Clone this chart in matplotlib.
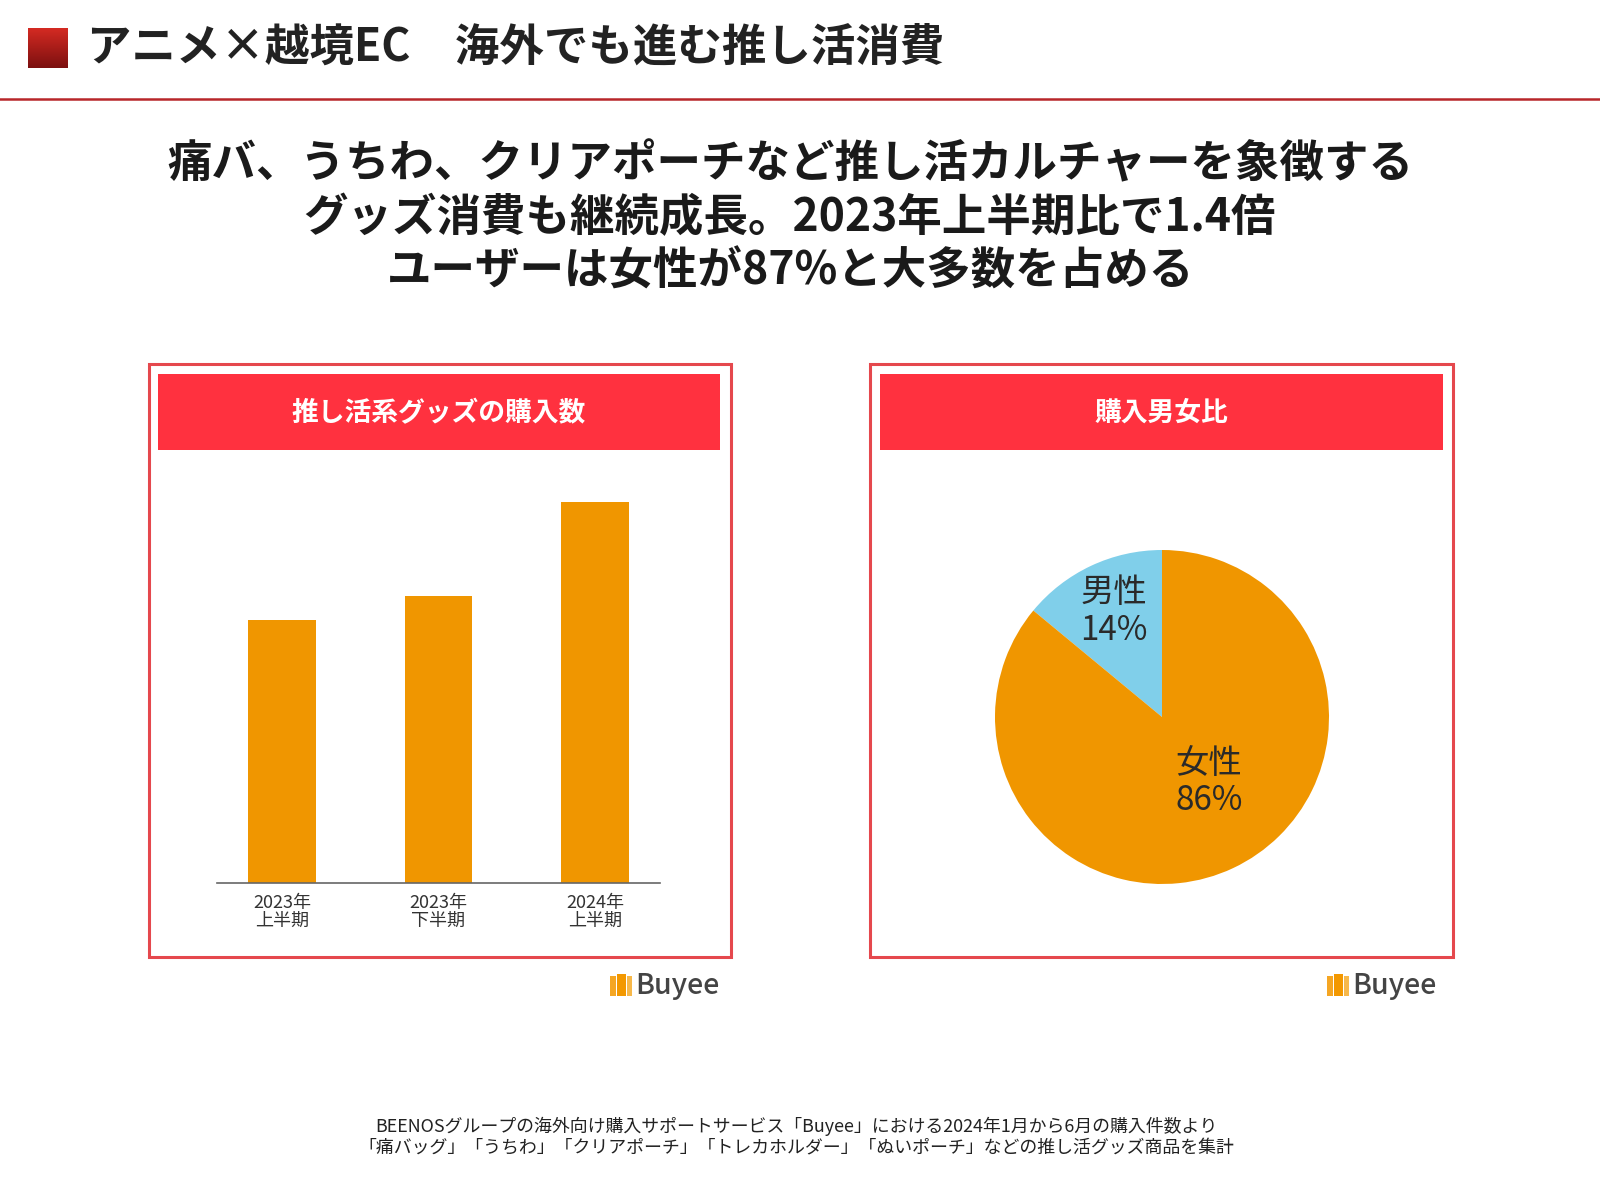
import numpy as np
import matplotlib
matplotlib.use("Agg")
import matplotlib.pyplot as plt
from matplotlib.patches import Rectangle

plt.rcParams["font.family"] = ["Noto Sans CJK JP", "DejaVu Sans"]

# ---- data ----
periods = ["2023年\n上半期", "2023年\n下半期", "2024年\n上半期"]
purchases = [100, 109, 145]  # index, 2023 H1 = 100

gender_labels = ["男性", "女性"]
gender_share = [14, 86]

page_title = "アニメ×越境EC　海外でも進む推し活消費"
headline = ["痛バ、うちわ、クリアポーチなど推し活カルチャーを象徴する",
            "グッズ消費も継続成長。2023年上半期比で1.4倍",
            "ユーザーは女性が87%と大多数を占める"]
footnote = ["BEENOSグループの海外向け購入サポートサービス「Buyee」における2024年1月から6月の購入件数より",
            "「痛バッグ」「うちわ」「クリアポーチ」「トレカホルダー」「ぬいポーチ」などの推し活グッズ商品を集計"]

ORANGE = "#F09600"
BLUE = "#80CFEA"
RED_BAR = "#FF313F"
RED_LINE = "#E5484D"
W, H = 1600, 1200


def fx(x):
    return x / W


def fy(y):
    return 1 - y / H


def main():
    fig = plt.figure(figsize=(16, 12), dpi=100)
    fig.patch.set_facecolor("white")

    # -----------------------
    # page title with red gradient square
    # -----------------------
    sq = fig.add_axes([fx(28), fy(68), fx(40), 40 / H])
    grad = np.linspace(0, 1, 50).reshape(-1, 1)
    cmap = matplotlib.colors.LinearSegmentedColormap.from_list("r", ["#D42A22", "#7C1010"])
    sq.imshow(grad, aspect="auto", cmap=cmap)
    sq.axis("off")
    fig.text(fx(87), fy(48), page_title, fontsize=32, color="#222222",
             ha="left", va="center", fontweight="bold")
    fig.add_artist(plt.Line2D([0, 1], [fy(99), fy(99)], color="#B8262A", lw=1.8))

    # -----------------------
    # headline
    # -----------------------
    for i, line in enumerate(headline):
        fig.text(fx(790), fy(164 + 54 * i), line, fontsize=32, fontweight="bold",
                 color="#1a1a1a", ha="center", va="center")

    # -----------------------
    # panel frames and headers
    # -----------------------
    for left, right, hl, hr, title in [(149, 731, 158, 720, "推し活系グッズの購入数"),
                                       (870, 1453, 880, 1443, "購入男女比")]:
        fig.add_artist(Rectangle((fx(left), fy(957)), fx(right - left), (957 - 364) / H,
                                 transform=fig.transFigure, fill=False,
                                 edgecolor=RED_LINE, lw=2.2))
        fig.add_artist(Rectangle((fx(hl), fy(450)), fx(hr - hl), (450 - 374) / H,
                                 transform=fig.transFigure, facecolor=RED_BAR,
                                 edgecolor="none"))
        fig.text(fx((hl + hr) / 2), fy(413), title, fontsize=19.3, fontweight="bold",
                 color="white", ha="center", va="center")

    # -----------------------
    # 1) bar chart
    # -----------------------
    ax = fig.add_axes([fx(217), fy(883), fx(443), (883 - 470) / H])
    x = np.arange(len(periods))
    ax.bar(x, purchases, width=0.43, color=ORANGE)
    ax.set_xlim(-0.415, 2.415)
    ax.set_ylim(0, 157)
    ax.set_xticks(x)
    ax.set_xticklabels(periods, fontsize=13, color="#333333", linespacing=1.0)
    ax.tick_params(axis="x", length=0, pad=8)
    ax.set_yticks([])
    for s in ["top", "left", "right"]:
        ax.spines[s].set_visible(False)
    ax.spines["bottom"].set_color("#666666")
    ax.spines["bottom"].set_linewidth(1.2)

    # -----------------------
    # 2) pie chart
    # -----------------------
    r = 167
    pa = fig.add_axes([fx(1162 - r), fy(717 + r), fx(2 * r), 2 * r / H])
    pa.pie(gender_share, colors=[BLUE, ORANGE], startangle=90, counterclock=True,
           radius=1, wedgeprops=dict(linewidth=0))
    pa.set_xlim(-1, 1)
    pa.set_ylim(-1, 1)
    pa.set_aspect("equal")
    label_pos = [(-0.29, 0.63), (0.28, -0.39)]
    for (lx, ly), lab, v in zip(label_pos, gender_labels, gender_share):
        pa.text(lx, ly, f"{lab}\n{v}%", fontsize=24, color="#2a2a2a",
                ha="center", va="center", linespacing=1.1)

    # -----------------------
    # Buyee logos
    # -----------------------
    for lx in [610, 1327]:
        fig.add_artist(Rectangle((fx(lx), fy(996)), fx(6), 20 / H, transform=fig.transFigure,
                                 facecolor="#F5A623", edgecolor="none"))
        fig.add_artist(Rectangle((fx(lx + 7), fy(996)), fx(9), 22 / H, transform=fig.transFigure,
                                 facecolor="#F39800", edgecolor="none"))
        fig.add_artist(Rectangle((fx(lx + 17), fy(996)), fx(5), 20 / H, transform=fig.transFigure,
                                 facecolor="#F7B84A", edgecolor="none"))
        fig.text(fx(lx + 25), fy(985), "Buyee", fontsize=20.5, color="#444444",
                 ha="left", va="center", fontweight="medium")

    # -----------------------
    # footnote
    # -----------------------
    for i, line in enumerate(footnote):
        fig.text(fx(796), fy(1126 + 21.5 * i), line, fontsize=12.9, color="#222222",
                 ha="center", va="center")

    fig.savefig("out.png", dpi=100)
    plt.close(fig)


if __name__ == "__main__":
    main()
